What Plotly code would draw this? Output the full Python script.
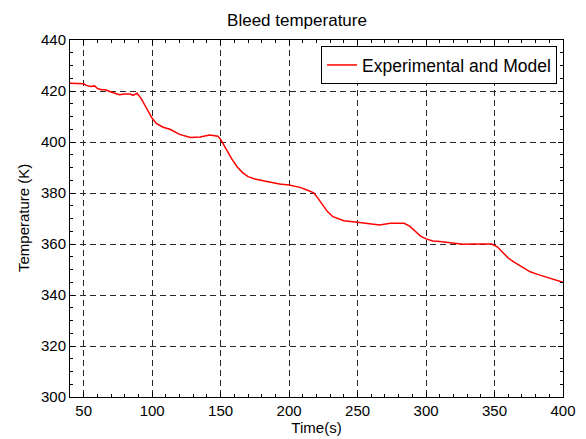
import plotly.graph_objects as go

time_s = [40, 45, 50, 52, 55, 58, 60, 63, 66, 70, 73, 76, 80, 84, 86, 89, 92, 95, 97, 100,
          103, 108, 113, 120, 128, 135, 142, 148, 150, 152, 155, 158, 162, 166, 170,
          175, 181, 187, 193, 200, 208, 213, 218, 221, 224, 228, 232, 240, 250, 260, 266,
          274, 284, 288, 291, 296, 300, 305, 310, 315, 320, 327, 335, 342, 348, 352, 356,
          360, 364, 370, 376, 382, 388, 394, 400]
temp_k = [423, 423, 422.8, 422.2, 421.8, 422, 421, 420.5, 420.5, 419.6, 419.2, 418.5, 418.8,
          418.8, 418.3, 419.1, 417, 414, 412, 409.3, 407.3, 405.8, 405, 403, 401.8, 402, 402.7,
          402.3, 401, 399, 396.5, 393.5, 390.3, 388, 386.4, 385.5, 384.8, 384.2, 383.5, 383.1,
          382.2, 381.2, 380.1, 378, 375.5, 372.7, 370.7, 369.1, 368.5, 368, 367.5, 368.1, 368.1,
          367, 365.5, 363.1, 362, 361.2, 361, 360.7, 360.5, 359.9, 360, 360, 360, 358.9, 356.5,
          354.5, 353, 351, 349.1, 348, 346.9, 346, 345]

font = "Liberation Sans, Arial, sans-serif"

fig = go.Figure()
fig.add_trace(go.Scatter(x=time_s, y=temp_k, mode="lines", name="Experimental and Model",
                         line=dict(color="red", width=1.5)))

axis_common = dict(
    showline=True, linecolor="black", linewidth=1, mirror="allticks",
    ticks="inside", ticklen=5, tickcolor="black",
    showgrid=True, gridcolor="rgb(40,40,40)", griddash="6px,4px", gridwidth=1,
    zeroline=False, automargin=False,
    tickfont=dict(size=15, color="black", family=font),
)

fig.update_layout(
    width=578, height=431,
    margin=dict(l=62, r=23, t=32, b=42),
    paper_bgcolor="white", plot_bgcolor="white",
    font=dict(family=font, color="black", size=15),
    title=dict(text="Bleed temperature", x=0.5, xanchor="center", y=0.972, yanchor="middle",
               font=dict(size=17, color="black", family=font)),
    showlegend=True,
    legend=dict(x=0.988, y=0.983, xanchor="right", yanchor="top",
                bordercolor="black", borderwidth=1, bgcolor="white",
                font=dict(size=17.5, color="black", family=font)),
    xaxis=dict(axis_common, range=[40, 400], tick0=50, dtick=50,
               minor=dict(ticks="inside", dtick=10, tick0=40, ticklen=3, tickcolor="black", showgrid=False),
               title=dict(text="Time(s)", standoff=0, font=dict(size=15, family=font))),
    yaxis=dict(axis_common, range=[300, 440], tick0=300, dtick=20,
               minor=dict(ticks="inside", dtick=5, ticklen=3, tickcolor="black", showgrid=False)),
    annotations=[dict(text="Temperature (K)", textangle=-90, x=0, y=0.5, xref="paper", yref="paper",
                      xanchor="center", yanchor="middle", xshift=-46.5, showarrow=False,
                      font=dict(size=15, color="black", family=font))],
)

fig.write_html("out.html")
